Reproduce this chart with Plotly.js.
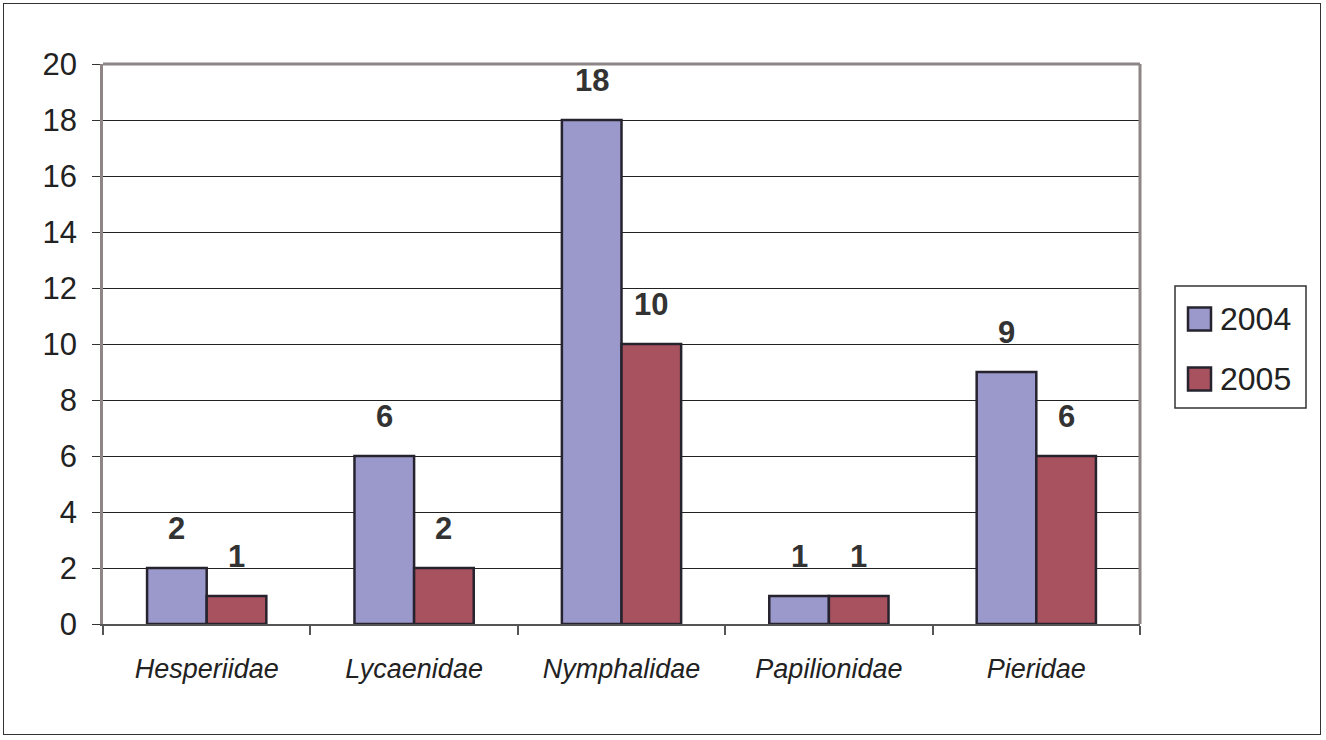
<!DOCTYPE html>
<html>
<head>
<meta charset="utf-8">
<script src="https://cdn.plot.ly/plotly-3.0.1.min.js"></script>
<style>
html,body{margin:0;padding:0;background:#fff;}
#wrap{position:relative;width:1326px;height:740px;}
#chart{width:1326px;height:740px;}
#frame{position:absolute;left:3px;top:3px;width:1318px;height:732px;border:1.5px solid #333;box-sizing:border-box;pointer-events:none;}
</style>
</head>
<body>
<div id="wrap"><div id="chart"></div><div id="frame"></div></div>
<script>
const families = ["Hesperiidae", "Lycaenidae", "Nymphalidae", "Papilionidae", "Pieridae"];
const years = ["2004", "2005"];
const values2004 = [2, 6, 18, 1, 9];
const values2005 = [1, 2, 10, 1, 6];
const yTicks = [0, 2, 4, 6, 8, 10, 12, 14, 16, 18, 20];

const colors = ["#9b98cb", "#a8525f"];
const series = [values2004, values2005];
const bargap = 0.425;
const barW = (1 - bargap) / 2;
const FONT = "Liberation Sans, Arial, sans-serif";

const traces = series.map((vals, i) => ({
  type: "bar",
  name: years[i],
  x: families,
  y: vals,
  marker: {color: colors[i], line: {color: "#26232e", width: 2.5}},
  hoverinfo: "x+y+name",
  showlegend: false
}));

const annotations = [];
series.forEach((vals, i) => {
  vals.forEach((v, j) => {
    annotations.push({
      x: j + (i === 0 ? -barW / 2 : barW / 2),
      xref: "x", y: v, yref: "y",
      text: String(v), showarrow: false,
      yanchor: "bottom", yshift: 20,
      font: {family: FONT, size: 31, color: "#333", weight: "bold"}
    });
  });
});

// plot area in pixels (for legend placement in paper units)
const PL = 103, PW = 1037, PB = 624, PH = 560;
const px = v => (v - PL) / PW;
const py = v => (PB - v) / PH;

const shapes = [
  {type: "line", xref: "paper", yref: "paper", x0: 0, x1: 1, y0: 1, y1: 1, line: {color: "#8e8686", width: 3}},
  {type: "line", xref: "paper", yref: "paper", x0: 1, x1: 1, y0: 0, y1: 1, line: {color: "#8e8686", width: 3}},
  // legend box
  {type: "rect", xref: "paper", yref: "paper", x0: px(1175), x1: px(1306), y0: py(408), y1: py(286),
   line: {color: "#333", width: 1.5}, fillcolor: "#fff", layer: "above"}
];

const legendRows = [319, 379];
years.forEach((yr, i) => {
  const cy = legendRows[i];
  shapes.push({type: "rect", xref: "paper", yref: "paper",
    x0: px(1188), x1: px(1211), y0: py(cy + 11.5), y1: py(cy - 11.5),
    line: {color: "#26232e", width: 2.5}, fillcolor: colors[i], layer: "above"});
  annotations.push({xref: "paper", yref: "paper", x: px(1218), y: py(cy), xanchor: "left", yanchor: "middle",
    text: yr, showarrow: false, font: {family: FONT, size: 32, color: "#222"}});
});

const layout = {
  width: 1326, height: 740,
  margin: {l: 103, r: 186, t: 64, b: 116},
  paper_bgcolor: "#fff", plot_bgcolor: "#fff",
  barmode: "group", bargap: bargap, bargroupgap: 0,
  font: {family: FONT, color: "#222"},
  xaxis: {
    type: "category",
    tickfont: {size: 27, style: "italic", color: "#222"},
    ticks: "outside", tickson: "boundaries", ticklen: 9, tickcolor: "#555", tickwidth: 1.5,
    showline: true, linecolor: "#555", linewidth: 2,
    ticklabelstandoff: 20,
    showgrid: false, fixedrange: true
  },
  yaxis: {
    range: [0, 20], tickvals: yTicks, ticktext: yTicks.map(String),
    tickfont: {size: 31, color: "#222"},
    ticks: "outside", ticklen: 8, tickcolor: "#333", tickwidth: 1,
    showline: true, linecolor: "#8e8686", linewidth: 2.5,
    showgrid: true, gridcolor: "#222", gridwidth: 1,
    zeroline: false, ticklabelstandoff: 9, fixedrange: true
  },
  showlegend: false,
  annotations: annotations,
  shapes: shapes
};

Plotly.newPlot("chart", traces, layout, {displayModeBar: false});
</script>
</body>
</html>
